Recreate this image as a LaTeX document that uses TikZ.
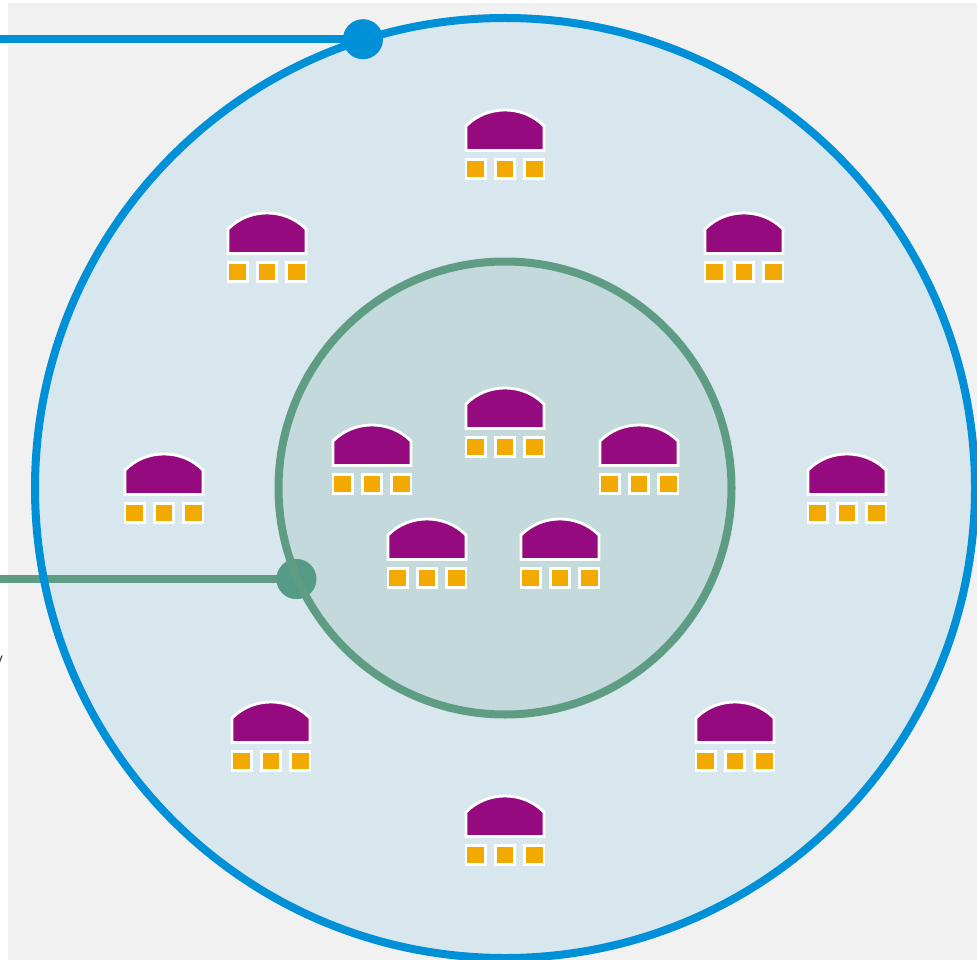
\documentclass[tikz,border=0pt]{standalone}
\usepackage{fontspec}
\setmainfont{Liberation Sans}
\definecolor{bgGrey}{HTML}{F1F1F1}
\definecolor{outerFill}{HTML}{D8E6ED}
\definecolor{innerFill}{HTML}{C4D9DC}
\definecolor{blueLine}{HTML}{0090D7}
\definecolor{greenLine}{HTML}{5F9C84}
\definecolor{greenDot}{HTML}{559B87}
\definecolor{domeFill}{HTML}{950A7F}
\definecolor{squareFill}{HTML}{F2A900}
\tikzset{
  x=1pt,y=-1pt,
  ring/.style={line width=8pt},
  lead/.style={line width=8.3pt},
  dot/.style={circle,minimum size=40pt,inner sep=0pt,outer sep=0pt},
  slotbox/.style={draw=white,line width=2.8pt,fill=squareFill,minimum size=19.5pt,inner sep=0pt,outer sep=0pt},
  domebody/.style={draw=white,line width=2.8pt,fill=domeFill,line join=miter},
  unit/.pic={
    \draw[domebody] (-39,40.5) -- (-39,16) .. controls (-28,5) and (-14,0) .. (0,0)
      .. controls (14,0) and (28,5) .. (39,16) -- (39,40.5) -- cycle;
    \node[slotbox] (-a) at (-29.3,59) {};
    \node[slotbox] (-b) at (0,59) {};
    \node[slotbox] (-c) at (29.3,59) {};
  }
}
\begin{document}
\begin{tikzpicture}
\useasboundingbox (0,0) rectangle (977,960);
\begin{scope}
\clip (0,0) rectangle (977,960);
\fill[bgGrey] (8,3) rectangle (977,960);
\node[font=\fontsize{16}{16}\selectfont,text=black!75,inner sep=0pt,anchor=east] (clipped) at (3,662) {y};
\coordinate (center) at (505,488);
\coordinate (blueEnd) at (-5,39.2);
\coordinate (greenEnd) at (-5,579);
\fill[outerFill] (center) circle (470);
\node[dot,fill=greenDot] (greenKnob) at (296.5,579) {};
\draw[lead,greenLine] (greenEnd) -- (greenKnob.center);
\draw[ring,blueLine] (center) circle (470);
\fill[innerFill] (center) circle (226.5);
\node[dot,fill=greenDot] at (greenKnob) {};
\draw[ring,greenLine] (center) circle (226.5);
\node[dot,fill=blueLine] (blueKnob) at (363,39.2) {};
\draw[lead,blueLine] (blueEnd) -- (blueKnob.center);
\foreach \n/\px/\py in {t/505/110,tl/267/213,tr/744/213,l/164/454,r/847/454,bl/271/702,br/735/702,b/505/796,
  ic/505/388,il/372/425,ir/639/425,ibl/427/519,ibr/560/519}
  \pic (\n) at (\px,\py) {unit};
\end{scope}
\end{tikzpicture}
\end{document}
